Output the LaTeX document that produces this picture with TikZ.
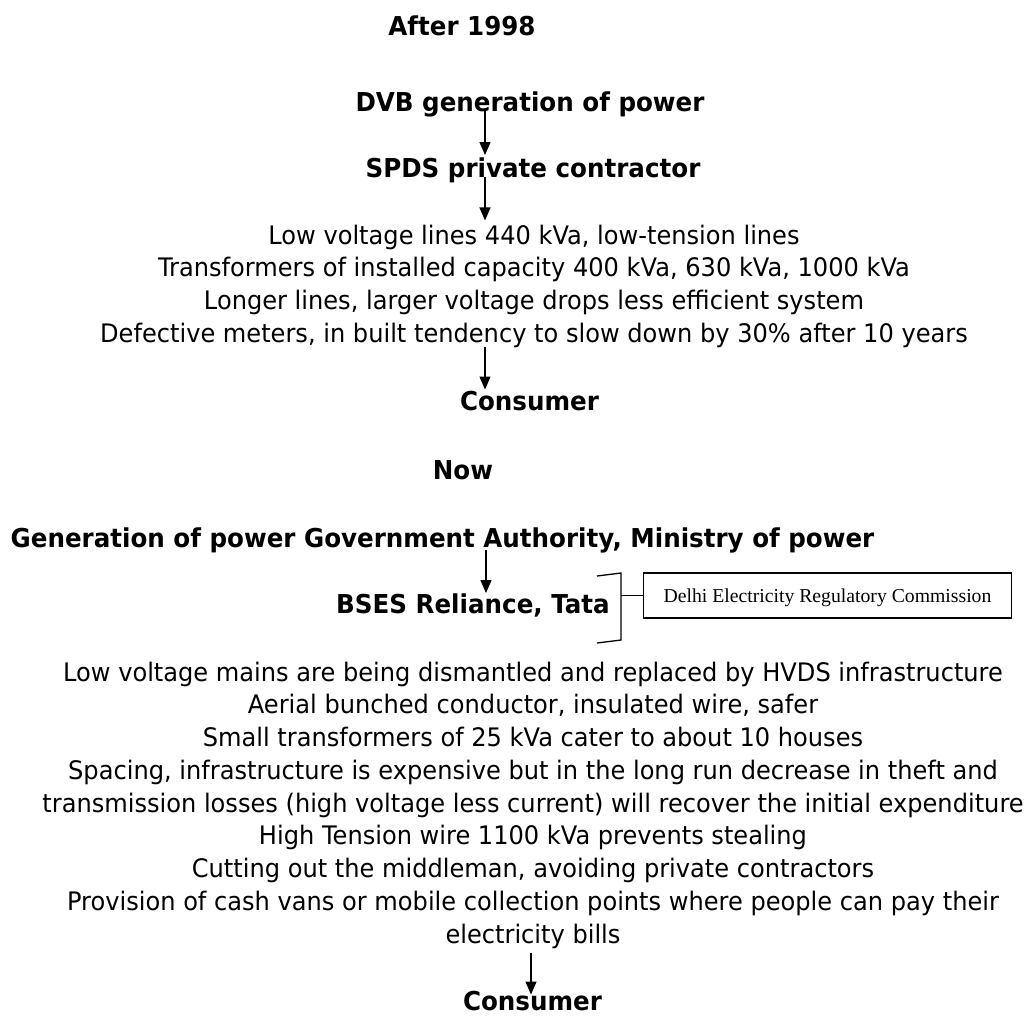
\documentclass[tikz,border=0pt]{standalone}
\usepackage{fontspec}
\setmainfont{DejaVu Sans}[FakeStretch=0.945]
\newfontfamily\boxfont{Liberation Serif}
\usetikzlibrary{arrows.meta}
\begin{document}
\begin{tikzpicture}[x=1pt,y=-1pt,
  ttl/.style={font=\fontsize{26}{30}\selectfont\bfseries, inner sep=0pt, anchor=base},
  txt/.style={font=\fontsize{25.5}{30}\selectfont, inner sep=0pt, anchor=base},
  arr/.style={-{Triangle[length=13pt,width=11pt]}, line width=1.3pt},
  brk/.style={line width=1.3pt},
  regbox/.style={draw, line width=1.3pt, font=\boxfont\fontsize{19.7}{22}\selectfont, text height=13.5pt, text depth=0pt, inner xsep=20pt, minimum height=45pt, anchor=west}
  ]
\useasboundingbox (0,0) rectangle (1028,1015);
\fill[white] (0,0) rectangle (1028,1015);

% ---- After 1998 ----
\node[ttl] (after) at (462,35) {After 1998};
\node[ttl] (dvb) at (530,111) {DVB generation of power};
\node[ttl] (spds) at (533,177) {SPDS private contractor};
\node[txt] (o1) at (534,244) {Low voltage lines 440 kVa, low-tension lines};
\node[txt] (o2) at (534,276.7) {Transformers of installed capacity 400 kVa, 630 kVa, 1000 kVa};
\node[txt] (o3) at (534,309.4) {Longer lines, larger voltage drops less efficient system};
\node[txt] (o4) at (534,342.1) {Defective meters, in built tendency to slow down by 30\% after 10 years};
\node[ttl] (c1) at (529.5,410) {Consumer};

\coordinate (ax1) at (485,0);
\draw[arr] (dvb.base -| ax1) -- ([yshift=2pt]spds.north -| ax1);
\draw[arr] (spds.base -| ax1) -- ([yshift=4pt]o1.north -| ax1);
\draw[arr] ([yshift=-5pt]o4.base -| ax1) -- ([yshift=1pt]c1.north -| ax1);

% ---- Now ----
\node[ttl] (now) at (463,479) {Now};
\node[ttl] (gen) at (442.5,547) {Generation of power Government Authority, Ministry of power};
\node[ttl, anchor=base east] (bses) at (610,613) {BSES Reliance, Tata};

\coordinate (ax4) at (486,0);
\draw[arr] ([yshift=-3pt]gen.base -| ax4) -- (bses.north -| ax4);

% bracket and regulator box
\coordinate (btl) at (597,576);
\coordinate (bt) at (621,573);
\coordinate (bb) at (621,640);
\coordinate (bbl) at (597,643);
\coordinate (bm) at (621,595.5);
\draw[brk] (btl) -- (bt) -- (bb) -- (bbl);
\node[regbox] (derc) at (643,595.5) {Delhi Electricity Regulatory Commission};
\draw[brk] (bm) -- (derc.west);

\node[txt] (n1) at (533,681) {Low voltage mains are being dismantled and replaced by HVDS infrastructure};
\node[txt] (n2) at (533,713.75) {Aerial bunched conductor, insulated wire, safer};
\node[txt] (n3) at (533,746.5) {Small transformers of 25 kVa cater to about 10 houses};
\node[txt] (n4) at (533,779.25) {Spacing, infrastructure is expensive but in the long run decrease in theft and};
\node[txt] (n5) at (533,812) {transmission losses (high voltage less current) will recover the initial expenditure};
\node[txt] (n6) at (533,844.75) {High Tension wire 1100 kVa prevents stealing};
\node[txt] (n7) at (533,877.5) {Cutting out the middleman, avoiding private contractors};
\node[txt] (n8) at (533,910.25) {Provision of cash vans or mobile collection points where people can pay their};
\node[txt] (n9) at (533,943) {electricity bills};
\node[ttl] (c2) at (532.5,1010) {Consumer};

\coordinate (ax5) at (531,0);
\draw[arr] ([yshift=-10pt]n9.base -| ax5) -- ([yshift=-4pt]c2.north -| ax5);
\end{tikzpicture}
\end{document}
